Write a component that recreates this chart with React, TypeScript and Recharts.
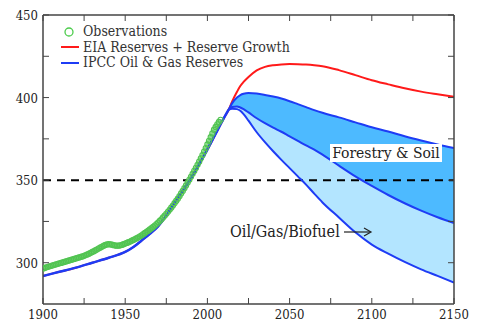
import React from 'react';
import { ComposedChart, Line, Area, XAxis, YAxis, ReferenceLine } from 'recharts';

// Observations (green circles), yearly
const obsYears = [1900,1902,1904,1906,1908,1910,1912,1914,1916,1918,1920,1922,1924,1926,1928,1930,1932,1934,1936,1938,1940,1942,1944,1946,1948,1950,1952,1954,1956,1958,1960,1962,1964,1966,1968,1970,1972,1974,1976,1978,1980,1982,1984,1986,1988,1990,1992,1994,1996,1998,2000,2002,2004,2006,2008,
  1901,1903,1905,1907,1909,1911,1913,1915,1917,1919,1921,1923,1925,1927,1929,1931,1933,1935,1937,1939,1941,1943,1945,1947,1949,1951,1953,1955,1957,1959,1961,1963,1965,1967,1969,1971,1973,1975,1977,1979,1981,1983,1985,1987,1989,1991,1993,1995,1997,1999,2001,2003,2005,2007];
const obsValues = [296.5,297.2,297.8,298.4,299.0,299.6,300.2,300.8,301.4,302.0,302.6,303.2,303.8,304.6,305.5,306.5,307.6,308.7,309.8,310.8,311.3,310.9,310.4,310.3,310.8,311.6,312.4,313.3,314.3,315.4,316.6,318.0,319.4,320.9,322.5,324.3,326.3,328.5,330.8,333.3,336.0,338.8,341.9,345.1,348.5,352.0,355.6,359.3,363.2,367.3,371.6,376.0,380.5,383.8,386.5,
  296.8,297.5,298.1,298.7,299.3,299.9,300.5,301.1,301.7,302.3,302.9,303.5,304.2,305.0,306.0,307.0,308.1,309.2,310.3,311.1,311.1,310.6,310.3,310.5,311.2,312.0,312.8,313.8,314.8,316.0,317.3,318.7,320.1,321.7,323.4,325.3,327.4,329.6,332.0,334.6,337.4,340.3,343.5,346.8,350.2,353.8,357.4,361.2,365.2,369.4,373.8,378.3,382.2,385.2];

// Historical emissions-driven curve (shared by both scenarios)
const histYears = [1900,1910,1920,1930,1940,1950,1955,1960,1965,1970,1975,1980,1985,1990,1995,2000,2005,2010,2013];
const histValues = [292,294.5,297,300,303,306.5,309.5,313.5,317.5,322,328.5,336.5,343.5,351,359.5,368.5,378,387.5,392.8];

// Future scenarios
const futYears = [2013,2015,2018,2020,2022,2025,2030,2035,2040,2045,2050,2055,2060,2065,2070,2080,2090,2100,2110,2120,2130,2140,2150];
const eiaValues = [392.8,397.5,403.5,407,409.5,412.5,416.5,418.6,419.6,420.1,420.3,420.2,420,419.6,419,416.6,413.6,410.5,408,405.6,403.6,402,400.5];
const ipccUpper = [392.8,396.5,400,401.5,402.3,402.7,402.4,401.6,400.6,399.4,397.8,396,394.2,392.4,390.8,388,385,382,379.5,376.6,374,371.6,369.5];
const ipccMiddle = [392.8,394.3,394.6,394,393,391,387.5,384.5,381.8,379.3,376.5,373.8,371,368.5,365.5,358.8,352.3,346.5,341,336,331.5,327.5,324];
const ipccLower = [392.8,393.3,393,392,390,386,379,373,367.5,362.3,357.3,352.3,347.3,341.8,336.5,327.4,318.4,311,305.5,300.5,296,292,288];

const xTicks = [1900,1925,1950,1975,2000,2025,2050,2075,2100,2125,2150];
const yTicks = [300,325,350,375,400,425,450];
const labeledX = [1900,1950,2000,2050,2100,2150];
const labeledY = [300,350,400,450];

const legendItems = ['Observations', 'EIA Reserves + Reserve Growth', 'IPCC Oil & Gas Reserves'];

type Row = { year: number; obs?: number; hist?: number; eia?: number; up?: number; mid?: number; low?: number; dark?: number[]; light?: number[] };

const buildRows = (): Row[] => {
  const map = new Map<number, Row>();
  const get = (y: number) => {
    if (!map.has(y)) map.set(y, { year: y });
    return map.get(y)!;
  };
  obsYears.forEach((y, i) => { get(y).obs = obsValues[i]; });
  histYears.forEach((y, i) => { get(y).hist = histValues[i]; get(y).eia = histValues[i]; });
  futYears.forEach((y, i) => {
    const r = get(y);
    r.eia = eiaValues[i];
    r.up = ipccUpper[i];
    r.mid = ipccMiddle[i];
    r.low = ipccLower[i];
    r.dark = [ipccMiddle[i], ipccUpper[i]];
    r.light = [ipccLower[i], ipccMiddle[i]];
  });
  return Array.from(map.values()).sort((a, b) => a.year - b.year);
};

const rows = buildRows();

const FONT = "'DejaVu Serif Condensed', 'DejaVu Serif', serif";
const AXIS = '#444';
const BLUE = '#1e3cf5';

const BottomTick = (p: any) => {
  const { x, y, payload } = p;
  const v = payload.value;
  return (
    <g>
      <line x1={x} x2={x} y1={y} y2={y - 6} stroke={AXIS} strokeWidth={1} />
      {labeledX.includes(v) && (
        <text x={x} y={y + 15} textAnchor="middle" style={{ fontFamily: FONT }} fontSize={13} fill="#222">{v}</text>
      )}
    </g>
  );
};
const TopTick = (p: any) => {
  const { x, y } = p;
  return <line x1={x} x2={x} y1={y} y2={y + 6} stroke={AXIS} strokeWidth={1} />;
};
const LeftTick = (p: any) => {
  const { x, y, payload } = p;
  const v = payload.value;
  return (
    <g>
      <line x1={x} x2={x + 6} y1={y} y2={y} stroke={AXIS} strokeWidth={1} />
      {labeledY.includes(v) && (
        <text x={x - 5} y={y + 5} textAnchor="end" style={{ fontFamily: FONT }} fontSize={13} fill="#222">{v}</text>
      )}
    </g>
  );
};
const RightTick = (p: any) => {
  const { x, y } = p;
  return <line x1={x} x2={x - 6} y1={y} y2={y} stroke={AXIS} strokeWidth={1} />;
};

export default function App() {
  return (
    <div style={{ position: 'absolute', left: 0, top: 0, width: 477, height: 324, background: '#fff' }}>
      <ComposedChart width={477} height={324} data={rows} margin={{ top: 14, right: 22, bottom: 0, left: 0 }}>
        <XAxis xAxisId="b" dataKey="year" type="number" domain={[1900, 2150]} ticks={xTicks} orientation="bottom"
          height={20} tickSize={0} tickMargin={0} tickLine={false} tick={<BottomTick />} axisLine={{ stroke: AXIS, strokeWidth: 1.5 }} interval={0} allowDataOverflow />
        <XAxis xAxisId="t" dataKey="year" type="number" domain={[1900, 2150]} ticks={xTicks} orientation="top"
          height={1} tickSize={0} tickMargin={0} tickLine={false} tick={<TopTick />} axisLine={{ stroke: AXIS, strokeWidth: 1.5 }} interval={0} allowDataOverflow />
        <YAxis yAxisId="l" type="number" domain={[275, 450]} ticks={yTicks} orientation="left" width={43}
          tickSize={0} tickMargin={0} tickLine={false} tick={<LeftTick />} axisLine={{ stroke: AXIS, strokeWidth: 1.5 }} interval={0} allowDataOverflow />
        <YAxis yAxisId="r" type="number" domain={[275, 450]} ticks={yTicks} orientation="right" width={1}
          tickSize={0} tickMargin={0} tickLine={false} tick={<RightTick />} axisLine={{ stroke: AXIS, strokeWidth: 1.5 }} interval={0} allowDataOverflow />

        <Area xAxisId="b" yAxisId="l" type="monotone" dataKey="light" stroke="none" fill="#b3e5ff" fillOpacity={1} connectNulls isAnimationActive={false} />
        <Area xAxisId="b" yAxisId="l" type="monotone" dataKey="dark" stroke="none" fill="#4dbaff" fillOpacity={1} connectNulls isAnimationActive={false} />

        <ReferenceLine xAxisId="b" yAxisId="l" y={350} stroke="#000" strokeWidth={2} strokeDasharray="8 6" />

        <Line xAxisId="b" yAxisId="l" type="monotone" dataKey="obs" stroke="#8adc8a" strokeWidth={4} connectNulls isAnimationActive={false}
          dot={{ r: 2.6, stroke: '#52c452', strokeWidth: 1.1, fill: 'none' }} activeDot={false} />
        <Line xAxisId="b" yAxisId="l" type="monotone" dataKey="eia" stroke="#ff1a1a" strokeWidth={2} dot={false} connectNulls isAnimationActive={false} />
        <Line xAxisId="b" yAxisId="l" type="monotone" dataKey="hist" stroke={BLUE} strokeWidth={2.5} dot={false} connectNulls isAnimationActive={false} />
        <Line xAxisId="b" yAxisId="l" type="monotone" dataKey="up" stroke={BLUE} strokeWidth={2} dot={false} connectNulls isAnimationActive={false} />
        <Line xAxisId="b" yAxisId="l" type="monotone" dataKey="mid" stroke={BLUE} strokeWidth={2} dot={false} connectNulls isAnimationActive={false} />
        <Line xAxisId="b" yAxisId="l" type="monotone" dataKey="low" stroke={BLUE} strokeWidth={2} dot={false} connectNulls isAnimationActive={false} />
      </ComposedChart>

      <div style={{ position: 'absolute', left: 60, top: 24, fontFamily: FONT, fontSize: 14, color: '#333', lineHeight: '15.5px' }}>
        {legendItems.map((t, i) => (
          <div key={t} style={{ display: 'flex', alignItems: 'center', height: 15.5, whiteSpace: 'nowrap' }}>
            <svg width={22} height={12} style={{ marginRight: 1 }}>
              {i === 0 ? <circle cx={9} cy={6} r={4} fill="none" stroke="#4ccc4c" strokeWidth={1.3} /> :
                <line x1={1} x2={19} y1={6} y2={6} stroke={i === 1 ? '#ff1a1a' : BLUE} strokeWidth={2} />}
            </svg>
            <span>{t}</span>
          </div>
        ))}
      </div>

      <div style={{ position: 'absolute', left: 330, top: 144, width: 112, height: 18, background: '#fff', fontFamily: FONT, fontSize: 15.5, color: '#222', lineHeight: '18px', textAlign: 'center', whiteSpace: 'nowrap' }}>
        Forestry &amp; Soil
      </div>
      <div style={{ position: 'absolute', left: 230, top: 223, fontFamily: FONT, fontSize: 16, color: '#222', lineHeight: '18px', whiteSpace: 'nowrap', display: 'flex', alignItems: 'center' }}>
        <span>Oil/Gas/Biofuel</span>
        <svg width={30} height={12} style={{ marginLeft: 3 }}>
          <line x1={1} x2={27} y1={6} y2={6} stroke="#222" strokeWidth={1.2} />
          <path d="M21 2 L28 6 L21 10" fill="none" stroke="#222" strokeWidth={1.2} />
        </svg>
      </div>
    </div>
  );
}
